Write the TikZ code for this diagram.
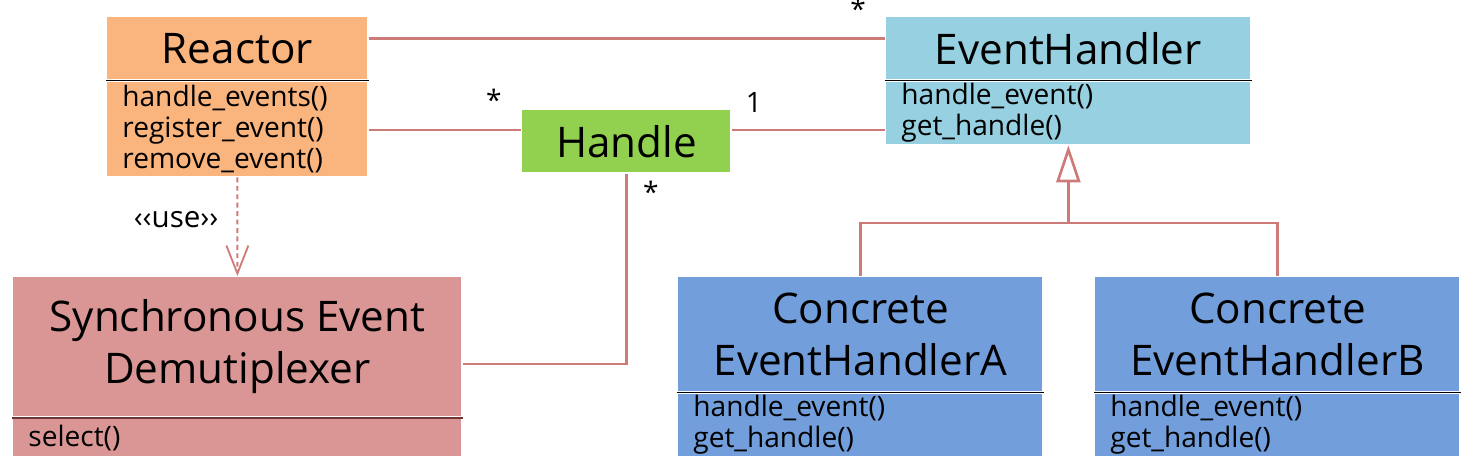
\documentclass[tikz,border=0pt]{standalone}
\usepackage{fontspec}
\setmainfont{Open Sans}
\usetikzlibrary{arrows.meta,positioning}

\definecolor{reactorfill}{HTML}{FAB47E}
\definecolor{handlerfill}{HTML}{97D0E0}
\definecolor{handlefill}{HTML}{92D050}
\definecolor{demuxfill}{HTML}{D99694}
\definecolor{concretefill}{HTML}{729FDB}
\definecolor{linkred}{HTML}{CD7B78}
\definecolor{demuxline}{HTML}{6E3533}

\begin{document}
\begin{tikzpicture}[
    x=0.025cm, y=-0.025cm,
    line width=1.9pt,
    classname/.style={fill=#1, inner sep=0pt, anchor=north west, font=\fontsize{30}{37}\selectfont, align=center},
    methods/.style={fill=#1, inner xsep=0.375cm, inner ysep=0pt, font=\fontsize{20}{22}\selectfont, align=left},
    sep/.style={line width=0.8pt, draw=black},
    assoc/.style={draw=linkred},
    mult/.style={font=\fontsize{20}{22}\selectfont, inner sep=0pt}
]
    \useasboundingbox (0,0) rectangle (1467,464);

    % classes
    \node[classname=reactorfill, minimum width=6.5cm, minimum height=1.55cm] (reactor) at (106,16) {Reactor};
    \node[methods=reactorfill, text width=5.75cm, minimum height=2.35cm, below=0pt of reactor] (reactor ops)
        {handle\_events()\\register\_event()\\remove\_event()};

    \node[classname=handlerfill, minimum width=9.1cm, minimum height=1.55cm] (eh) at (885,16) {EventHandler};
    \node[methods=handlerfill, text width=8.35cm, minimum height=1.55cm, below=0pt of eh] (eh ops)
        {handle\_event()\\get\_handle()};

    \node[classname=handlefill, minimum width=5.2cm, minimum height=1.55cm] (handle) at (521,109) {Handle};

    \node[classname=demuxfill, minimum width=11.2cm, minimum height=3.475cm] (sync) at (12,276)
        {Synchronous Event\\Demutiplexer};
    \node[methods=demuxfill, text width=10.45cm, minimum height=0.925cm, below=0pt of sync] (sync ops) {select()};

    \node[classname=concretefill, minimum width=9.1cm, minimum height=2.85cm] (ca) at (677,276)
        {Concrete\\EventHandlerA};
    \node[methods=concretefill, text width=8.35cm, minimum height=1.55cm, below=0pt of ca] (ca ops)
        {handle\_event()\\get\_handle()};

    \node[classname=concretefill, minimum width=9.1cm, minimum height=2.85cm] (cb) at (1094,276)
        {Concrete\\EventHandlerB};
    \node[methods=concretefill, text width=8.35cm, minimum height=1.55cm, below=0pt of cb] (cb ops)
        {handle\_event()\\get\_handle()};

    % compartment lines
    \draw[sep] (reactor.south west) -- (reactor.south east);
    \draw[sep] (eh.south west) -- (eh.south east);
    \draw[sep, draw=demuxline, line width=1.2pt] (sync.south west) -- (sync.south east);
    \draw[sep] (ca.south west) -- (ca.south east);
    \draw[sep] (cb.south west) -- (cb.south east);

    % associations
    \draw[assoc] ([yshift=7pt]reactor.east) -- ([yshift=7pt]eh.west);
    \draw[assoc] (reactor ops.east |- 0,130) -- (handle.west |- 0,130);
    \draw[assoc] (handle.east |- 0,130) -- (eh ops.west |- 0,130);
    \draw[assoc] (handle.south) |- (sync.east |- 0,364);

    \node[mult] (m eh) at (858,9) {*};
    \node[mult] (m reactor) at (494,100) {*};
    \node[mult] (m one) at (754,102) {1};
    \node[mult] (m sync) at (651,192) {*};

    % dependency
    \draw[draw=linkred, line width=1.3pt, dash pattern=on 3.5pt off 2.5pt,
          -{Straight Barb[length=0.7cm, width=0.55cm]}] (reactor ops.south) -- (sync.north)
        node[pos=0.43, left=0.45cm, font=\fontsize{21}{24}\selectfont, inner sep=0pt] (use) {‹‹use››};

    % inheritance
    \coordinate (fork) at (eh ops.south |- 0,223);
    \draw[assoc] (ca.north) |- (cb.north |- fork) -- (cb.north);
    \draw[assoc, -{Triangle[open, length=0.925cm, width=0.6cm, fill=white]}] (fork) -- (eh ops.south);
\end{tikzpicture}
\end{document}
